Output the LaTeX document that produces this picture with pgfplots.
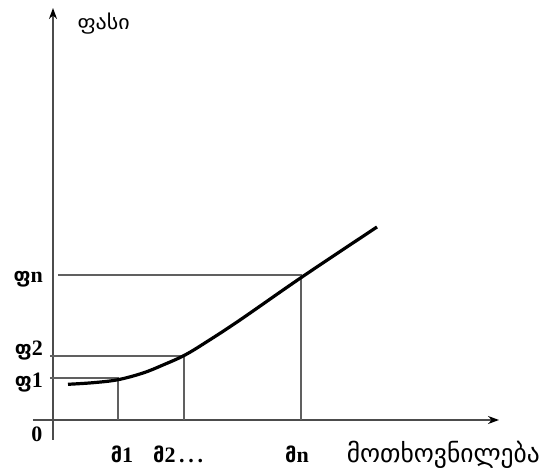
\documentclass[border=0pt]{standalone}
\usepackage{pgfplots}
\pgfplotsset{compat=1.18}
\usetikzlibrary{arrows.meta}
\usepackage{fontspec}
\setmainfont{Liberation Serif}
\newfontfamily\geo{DejaVu Sans}
\newcommand\lab{\fontsize{20}{22}\selectfont}
\newcommand\dig{\fontsize{22}{24}\selectfont\bfseries}
\begin{document}
\begin{tikzpicture}
\begin{axis}[
  scale only axis,
  width=465pt, height=430pt,
  xmin=-20, xmax=445, ymin=-20, ymax=410,
  axis lines=none,
  clip=false,
]
% bounding box of the whole picture
\path (axis cs:-53,-47) rectangle (axis cs:493,420);
% axes
\addplot[gray!60!black, line width=1.6pt, -{Stealth[length=11pt,width=8pt,black]}] coordinates {(-20,0) (446,0)};
\addplot[gray!60!black, line width=1.6pt, -{Stealth[length=11pt,width=8pt,black]}] coordinates {(0,-20) (0,412)};
% guide lines
\addplot[gray!75!black, line width=1.3pt] coordinates {(-3,42) (65,42) (65,0)};
\addplot[gray!75!black, line width=1.3pt] coordinates {(-3,64) (131,64) (131,0)};
\addplot[gray!75!black, line width=1.3pt] coordinates {(5,145) (248,145) (248,0)};
% curve
\addplot[black, line width=3.2pt, smooth, tension=0.6] coordinates {
 (15,35.7) (40,37.3) (65,40.3) (90,47) (110,55) (132,65) (155,79) (187,100) (249,143) (324,193)
};
% labels
\node[anchor=west] at (axis cs:21,396) {\lab\geo\scalebox{1.1}[1]{ფასი}};
\node[anchor=base] at (axis cs:-16,-22) {\dig 0};
\node[anchor=base east,inner xsep=0pt] at (axis cs:-10,32) {{\lab\geo\textbf{ფ}}{\dig 1}};
\node[anchor=base east,inner xsep=0pt] at (axis cs:-10,64) {{\lab\geo\textbf{ფ}}{\dig 2}};
\node[anchor=base east,inner xsep=0pt] at (axis cs:-10,137) {{\lab\geo\textbf{ფ}}{\dig n}};
\node[anchor=base] at (axis cs:69,-43) {{\lab\geo\textbf{მ}}{\dig 1}};
\node[anchor=base west,inner xsep=0pt] at (axis cs:100,-43) {{\lab\geo\textbf{მ}}{\dig 2\,.\,.\,.}};
\node[anchor=base] at (axis cs:244,-43) {{\lab\geo\textbf{მ}}{\dig n}};
\node[anchor=base east,inner xsep=0pt] at (axis cs:487,-43) {\lab\geo\resizebox{193pt}{!}{მოთხოვნილება}};
\end{axis}
\end{tikzpicture}
\end{document}
